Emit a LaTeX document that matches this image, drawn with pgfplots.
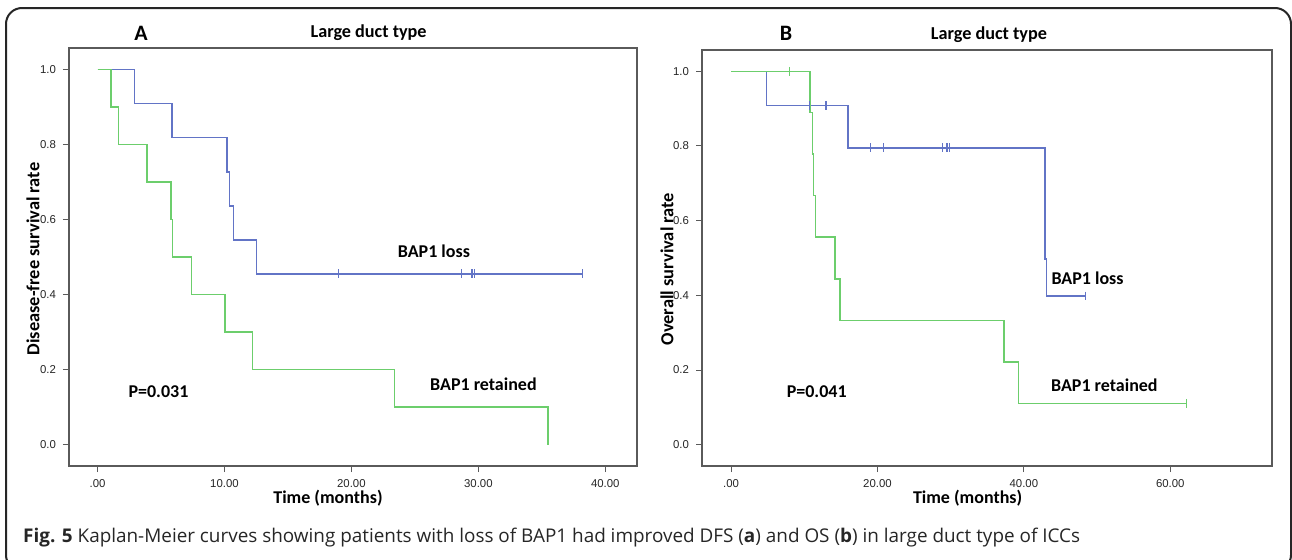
\documentclass[border=0pt]{standalone}
\usepackage{fontspec}
\setmainfont{Carlito}
\newfontfamily\arial{Liberation Sans}
\newfontfamily\capfont{Open Sans}
\usepackage{pgfplots}
\pgfplotsset{compat=1.18}

\definecolor{kmblue}{RGB}{98,116,198}
\definecolor{kmgreen}{RGB}{108,206,108}
\definecolor{axisgray}{RGB}{90,90,90}

\pgfplotsset{
  km/.style={
    scale only axis,
    axis line style={draw=axisgray, line width=0.8pt},
    tick style={draw=axisgray, line width=0.5pt},
    tick align=outside,
    major tick length=3pt,
    xtick pos=bottom, ytick pos=left,
    ymin=-0.057, ymax=1.057,
    ytick={0,0.2,0.4,0.6,0.8,1.0},
    yticklabels={0.0,0.2,0.4,0.6,0.8,1.0},
    ticklabel style={font=\arial\fontsize{5.7}{6}\selectfont, text=black!85},
    label style={font=\bfseries\fontsize{9}{10}\selectfont},
    /pgf/number format/assume math mode=true,
  },
  loss/.style={kmblue, line width=0.7pt, const plot, mark=none},
  kept/.style={kmgreen, line width=0.7pt, const plot, mark=none},
  cens/.style={only marks, mark=|, mark size=2.2pt, line width=0.6pt},
}

\begin{document}
\begin{tikzpicture}
\useasboundingbox (0,0) rectangle (646pt,279.5pt);
\draw[black!85, line width=1pt, rounded corners=8pt] (3pt,-6pt) rectangle (645.5pt,275.5pt);

% panel A: disease-free survival
\begin{axis}[km,
  at={(34.5pt,46.5pt)}, anchor=south west,
  width=284pt, height=209pt,
  xmin=-2.25, xmax=42.5,
  xtick={0,10,20,30,40},
  xticklabels={.00,10.00,20.00,30.00,40.00},
  xlabel={Time (months)},
  xlabel style={at={(rel axis cs:0.456,0)}, anchor=center, yshift=-16pt},
]
\addplot[loss] coordinates {
  (0,1) (2.9,0.909) (5.85,0.818) (10.2,0.727) (10.4,0.636)
  (10.7,0.545) (12.5,0.455) (38.2,0.455)
};
\addplot[cens, kmblue] coordinates {
  (19.0,0.455) (28.7,0.455) (29.5,0.455) (29.7,0.455) (38.2,0.455)
};
\addplot[kept] coordinates {
  (0,1) (1.07,0.9) (1.66,0.8) (3.9,0.7) (5.8,0.6) (5.9,0.5)
  (7.4,0.4) (10.05,0.3) (12.2,0.2) (23.4,0.1) (35.5,0)
};
\node[font=\bfseries\fontsize{9}{10}\selectfont] at (axis cs:26.5,0.515) {BAP1 loss};
\node[font=\bfseries\fontsize{9}{10}\selectfont] at (axis cs:30.4,0.16) {BAP1 retained};
\node[font=\bfseries\fontsize{9}{10}\selectfont] at (axis cs:4.8,0.142) {P=0.031};
\end{axis}

% panel B: overall survival
\begin{axis}[km,
  at={(351pt,46.5pt)}, anchor=south west,
  width=285pt, height=208pt,
  xmin=-3.97, xmax=73.9,
  xtick={0,20,40,60},
  xticklabels={.00,20.00,40.00,60.00},
  xlabel={Time (months)},
  xlabel style={at={(rel axis cs:0.466,0)}, anchor=center, yshift=-16pt},
]
\addplot[loss] coordinates {
  (0,1) (4.87,0.909) (16.0,0.795) (42.9,0.497) (43.1,0.398) (48.4,0.398)
};
\addplot[cens, kmblue] coordinates {
  (10.75,0.909) (12.96,0.909) (19.1,0.795) (20.8,0.795)
  (28.9,0.795) (29.5,0.795) (29.8,0.795) (48.4,0.398)
};
\addplot[kept] coordinates {
  (0,1) (10.8,0.889) (11.1,0.778) (11.3,0.667) (11.5,0.556)
  (14.2,0.444) (14.9,0.333) (37.3,0.222) (39.3,0.111) (62.2,0.111)
};
\addplot[cens, kmgreen] coordinates {(8.0,1) (62.2,0.111)};
\node[font=\bfseries\fontsize{9}{10}\selectfont] at (axis cs:48.7,0.447) {BAP1 loss};
\node[font=\bfseries\fontsize{9}{10}\selectfont] at (axis cs:51.0,0.159) {BAP1 retained};
\node[font=\bfseries\fontsize{9}{10}\selectfont] at (axis cs:11.7,0.141) {P=0.041};
\end{axis}

% y axis labels
\node[rotate=90, font=\bfseries\fontsize{9.2}{10}\selectfont] at (16.5pt,150pt) {Disease-free survival rate};
\node[rotate=90, font=\bfseries\fontsize{9.2}{10}\selectfont] at (333.5pt,145pt) {Overall survival rate};

% panel letters and titles
\node[font=\bfseries\fontsize{11}{12}\selectfont] at (70.5pt,263pt) {A};
\node[font=\bfseries\fontsize{9.1}{10}\selectfont] at (184.3pt,263pt) {Large duct type};
\node[font=\bfseries\fontsize{11}{12}\selectfont] at (393pt,263pt) {B};
\node[font=\bfseries\fontsize{9.1}{10}\selectfont] at (494.5pt,262pt) {Large duct type};

% caption
\node[anchor=west, font=\capfont\fontsize{9.45}{11}\selectfont, text=black!85, inner sep=0pt] at (11.4pt,10.5pt)
  {\textbf{Fig. 5} Kaplan-Meier curves showing patients with loss of BAP1 had improved DFS (\textbf{a}) and OS (\textbf{b}) in large duct type of ICCs};
\end{tikzpicture}
\end{document}
